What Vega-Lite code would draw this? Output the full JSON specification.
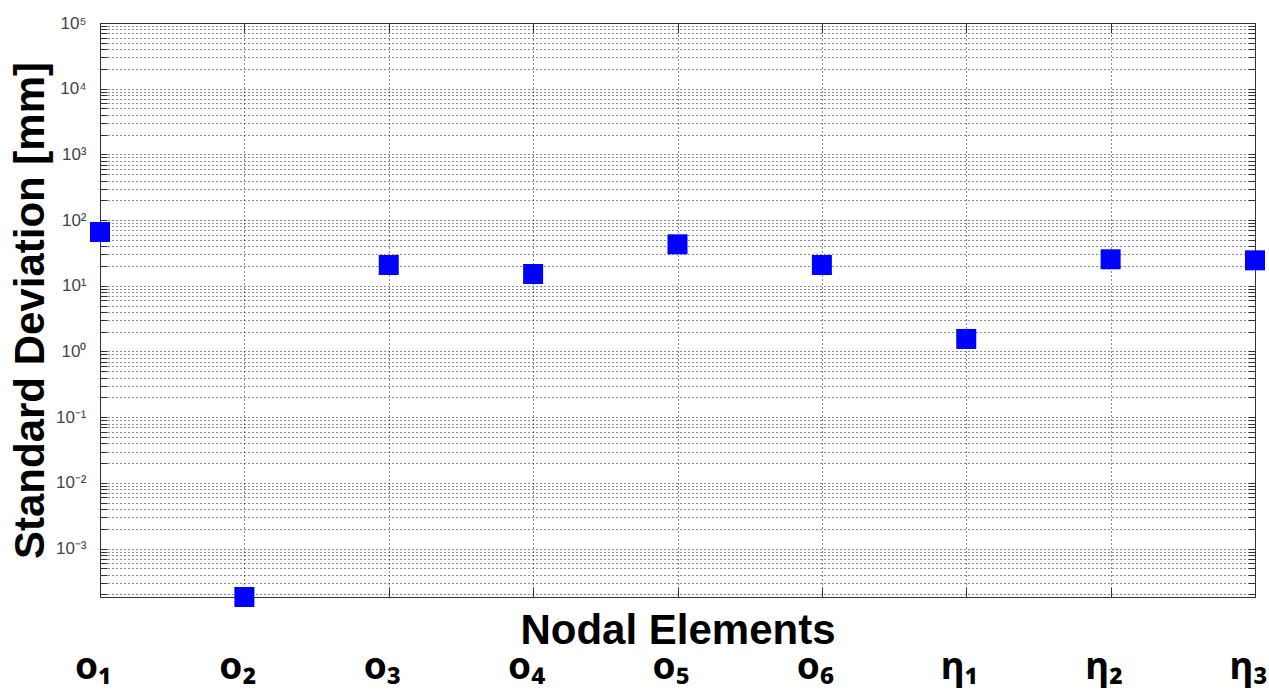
{
  "$schema": "https://vega.github.io/schema/vega-lite/v6.json",
  "width": 1155,
  "height": 574,
  "autosize": {"type": "none"},
  "padding": {"left": 100, "top": 23, "right": 14, "bottom": 97},
  "background": "white",
  "config": {"view": {"stroke": "#333", "strokeWidth": 1}},
  "data": {
    "values": [
      {"node": "o₁", "sd": 65.9},
      {"node": "o₂", "sd": 0.000183},
      {"node": "o₃", "sd": 20.7},
      {"node": "o₄", "sd": 15.1},
      {"node": "o₅", "sd": 42.8},
      {"node": "o₆", "sd": 20.7},
      {"node": "η₁", "sd": 1.55},
      {"node": "η₂", "sd": 25.3},
      {"node": "η₃", "sd": 24.4}
    ]
  },
  "layer": [
    {
      "mark": {"type": "point", "shape": "square", "filled": true, "size": 400, "color": "#0000ff", "opacity": 1, "strokeWidth": 0, "clip": false},
      "encoding": {
        "x": {
          "field": "node", "type": "nominal", "sort": null,
          "scale": {"type": "point", "padding": 0},
          "axis": {
            "orient": "bottom",
            "title": "Nodal Elements",
            "titleFont": "Liberation Sans", "titleFontSize": 42, "titleFontWeight": "bold", "titleColor": "#000",
            "titleY": 46, "titleBaseline": "alphabetic",
            "labelFont": "Noto Sans", "labelFontSize": 37, "labelFontWeight": "bold", "labelColor": "#000",
            "labelAngle": 0, "labelBaseline": "alphabetic", "labelPadding": 91, "labelOffset": -7,
            "labelOverlap": false, "labelFlush": false, "labelBound": false,
            "ticks": true, "tickSize": -10, "tickColor": "#333",
            "domain": true, "domainColor": "#333",
            "grid": true, "gridDash": [1, 3], "gridColor": "#000", "gridOpacity": 0.9
          }
        },
        "y": {
          "field": "sd", "type": "quantitative",
          "scale": {"type": "log", "domain": [0.000183, 100000], "nice": false},
          "axis": {
            "orient": "left",
            "title": "Standard Deviation [mm]",
            "titleFont": "Liberation Sans", "titleFontSize": 42, "titleFontWeight": "bold", "titleColor": "#000",
            "titleAngle": -90, "titleX": -57, "titleBaseline": "alphabetic",
            "values": [0.0002, 0.0003, 0.0004, 0.0005, 0.0006, 0.0007, 0.0008, 0.0009,
                       0.001, 0.002, 0.003, 0.004, 0.005, 0.006, 0.007, 0.008, 0.009,
                       0.01, 0.02, 0.03, 0.04, 0.05, 0.06, 0.07, 0.08, 0.09,
                       0.1, 0.2, 0.3, 0.4, 0.5, 0.6, 0.7, 0.8, 0.9,
                       1, 2, 3, 4, 5, 6, 7, 8, 9,
                       10, 20, 30, 40, 50, 60, 70, 80, 90,
                       100, 200, 300, 400, 500, 600, 700, 800, 900,
                       1000, 2000, 3000, 4000, 5000, 6000, 7000, 8000, 9000,
                       10000, 20000, 30000, 40000, 50000, 60000, 70000, 80000, 90000, 100000],
            "labelExpr": "datum.value==100000?'10⁵':datum.value==10000?'10⁴':datum.value==1000?'10³':datum.value==100?'10²':datum.value==10?'10¹':datum.value==1?'10⁰':datum.value==0.1?'10⁻¹':datum.value==0.01?'10⁻²':datum.value==0.001?'10⁻³':''",
            "labelFont": "Liberation Sans", "labelFontSize": 17, "labelColor": "#444",
            "labelPadding": 21, "labelOverlap": false, "labelFlush": false, "labelBound": false,
            "ticks": true, "tickSize": -7, "tickColor": "#333",
            "domain": true, "domainColor": "#333",
            "grid": true, "gridDash": [1, 3], "gridColor": "#000", "gridOpacity": 0.9
          }
        }
      }
    },
    {
      "mark": {"type": "point", "opacity": 0, "clip": false},
      "encoding": {
        "x": {
          "field": "node", "type": "nominal", "sort": null,
          "scale": {"type": "point", "padding": 0},
          "axis": {"orient": "top", "title": null, "labels": false, "ticks": true, "tickSize": -10, "tickColor": "#333", "domain": true, "domainColor": "#333", "grid": false}
        },
        "y": {
          "field": "sd", "type": "quantitative",
          "scale": {"type": "log", "domain": [0.000183, 100000], "nice": false},
          "axis": {
            "orient": "right", "title": null, "labels": false, "grid": false,
            "values": [0.0002, 0.0003, 0.0004, 0.0005, 0.0006, 0.0007, 0.0008, 0.0009,
                       0.001, 0.002, 0.003, 0.004, 0.005, 0.006, 0.007, 0.008, 0.009,
                       0.01, 0.02, 0.03, 0.04, 0.05, 0.06, 0.07, 0.08, 0.09,
                       0.1, 0.2, 0.3, 0.4, 0.5, 0.6, 0.7, 0.8, 0.9,
                       1, 2, 3, 4, 5, 6, 7, 8, 9,
                       10, 20, 30, 40, 50, 60, 70, 80, 90,
                       100, 200, 300, 400, 500, 600, 700, 800, 900,
                       1000, 2000, 3000, 4000, 5000, 6000, 7000, 8000, 9000,
                       10000, 20000, 30000, 40000, 50000, 60000, 70000, 80000, 90000, 100000],
            "ticks": true, "tickSize": -7, "tickColor": "#333",
            "domain": true, "domainColor": "#333"
          }
        }
      }
    }
  ],
  "resolve": {"axis": {"x": "independent", "y": "independent"}}
}
